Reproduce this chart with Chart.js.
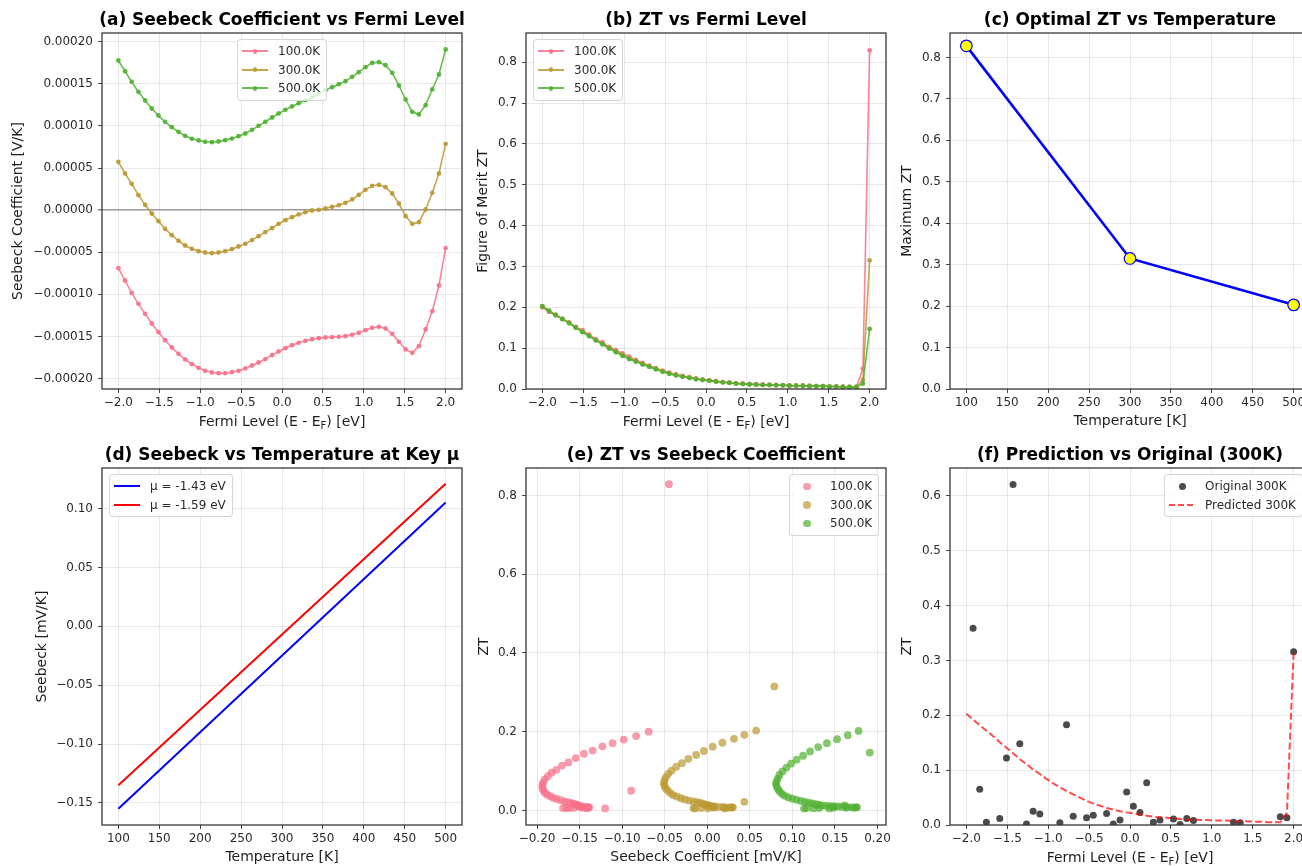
<!DOCTYPE html>
<html><head><meta charset="utf-8">
<script src="https://cdn.jsdelivr.net/npm/chart.js@4.4.1/dist/chart.umd.min.js"></script>
<style>
html,body{margin:0;padding:0;background:#fff;}
body{width:1302px;height:866px;overflow:hidden;position:relative;font-family:"DejaVu Sans",sans-serif;}
.panel{position:absolute;}
.legend{position:absolute;background:rgba(255,255,255,0.8);border:1px solid rgba(204,204,204,0.8);border-radius:4px;padding:2px 6px 2px 4px;font-size:12px;color:#2a2a2a;white-space:nowrap;}
.row{display:flex;align-items:center;height:18.5px;}
.sw{position:relative;width:26px;height:18.5px;margin-right:10px;flex:none;}
.xlab{position:absolute;font-size:14px;color:#1e1e1e;white-space:nowrap;transform:translate(-50%,-50%);line-height:17px;}
.xlab sub{font-size:10px;vertical-align:-3px;line-height:0;}
</style></head><body>
<script>
// ---------------- DATA ----------------
const X_FERMI = [-2.000,-1.918,-1.837,-1.755,-1.673,-1.592,-1.510,-1.429,-1.347,-1.265,-1.184,-1.102,-1.020,-0.939,-0.857,-0.776,-0.694,-0.612,-0.531,-0.449,-0.367,-0.286,-0.204,-0.122,-0.041,0.041,0.122,0.204,0.286,0.367,0.449,0.531,0.612,0.694,0.776,0.857,0.939,1.020,1.102,1.184,1.265,1.347,1.429,1.510,1.592,1.673,1.755,1.837,1.918,2.000];
const TEMP_LABELS = ['100.0K','300.0K','500.0K'];
// Seebeck coefficient [V/K]
const S_100K = [-6.89e-5,-8.36e-5,-9.82e-5,-11.13e-5,-12.32e-5,-13.47e-5,-14.50e-5,-15.45e-5,-16.32e-5,-17.07e-5,-17.74e-5,-18.30e-5,-18.73e-5,-19.09e-5,-19.29e-5,-19.37e-5,-19.37e-5,-19.25e-5,-19.09e-5,-18.81e-5,-18.46e-5,-18.10e-5,-17.70e-5,-17.23e-5,-16.79e-5,-16.40e-5,-16.04e-5,-15.76e-5,-15.52e-5,-15.33e-5,-15.21e-5,-15.13e-5,-15.09e-5,-15.05e-5,-14.97e-5,-14.81e-5,-14.57e-5,-14.26e-5,-13.98e-5,-13.86e-5,-14.06e-5,-14.69e-5,-15.64e-5,-16.55e-5,-16.95e-5,-16.16e-5,-14.18e-5,-12.00e-5,-8.95e-5,-4.51e-5];
const S_300K = [5.74e-5,4.36e-5,3.13e-5,1.78e-5,0.63e-5,-0.40e-5,-1.31e-5,-2.22e-5,-2.97e-5,-3.64e-5,-4.20e-5,-4.59e-5,-4.87e-5,-5.03e-5,-5.11e-5,-5.03e-5,-4.87e-5,-4.63e-5,-4.32e-5,-4.00e-5,-3.56e-5,-3.09e-5,-2.61e-5,-2.14e-5,-1.62e-5,-1.19e-5,-0.83e-5,-0.51e-5,-0.24e-5,-0.04e-5,0.04e-5,0.20e-5,0.40e-5,0.59e-5,0.87e-5,1.27e-5,1.82e-5,2.42e-5,2.89e-5,3.01e-5,2.73e-5,1.98e-5,0.79e-5,-0.71e-5,-1.62e-5,-1.43e-5,0.08e-5,2.06e-5,4.36e-5,7.88e-5];
const S_500K = [17.78e-5,16.51e-5,15.25e-5,14.06e-5,13.03e-5,12.08e-5,11.25e-5,10.50e-5,9.86e-5,9.31e-5,8.83e-5,8.48e-5,8.28e-5,8.12e-5,8.08e-5,8.16e-5,8.32e-5,8.51e-5,8.79e-5,9.11e-5,9.54e-5,10.02e-5,10.50e-5,11.01e-5,11.49e-5,11.92e-5,12.32e-5,12.71e-5,13.07e-5,13.39e-5,13.82e-5,14.26e-5,14.61e-5,14.97e-5,15.33e-5,15.84e-5,16.40e-5,16.99e-5,17.50e-5,17.58e-5,17.23e-5,16.32e-5,14.81e-5,13.15e-5,11.68e-5,11.37e-5,12.48e-5,14.34e-5,16.12e-5,19.09e-5];
// Figure of merit ZT
const ZT_100K = [0.200,0.189,0.180,0.171,0.163,0.152,0.144,0.133,0.122,0.114,0.103,0.096,0.087,0.079,0.071,0.064,0.057,0.051,0.045,0.040,0.036,0.032,0.029,0.026,0.023,0.021,0.019,0.017,0.016,0.014,0.013,0.012,0.011,0.011,0.010,0.010,0.009,0.009,0.008,0.008,0.008,0.007,0.007,0.006,0.006,0.006,0.005,0.005,0.050,0.829];
const ZT_300K = [0.203,0.192,0.182,0.172,0.162,0.151,0.141,0.131,0.120,0.111,0.101,0.093,0.084,0.076,0.069,0.062,0.056,0.050,0.044,0.039,0.035,0.031,0.028,0.025,0.023,0.021,0.019,0.017,0.015,0.014,0.013,0.012,0.011,0.010,0.010,0.009,0.009,0.008,0.008,0.008,0.007,0.007,0.007,0.006,0.006,0.005,0.005,0.005,0.022,0.315];
const ZT_500K = [0.202,0.191,0.181,0.171,0.161,0.150,0.139,0.129,0.119,0.109,0.099,0.090,0.081,0.073,0.067,0.060,0.054,0.048,0.042,0.037,0.033,0.030,0.027,0.024,0.022,0.020,0.018,0.016,0.015,0.013,0.012,0.011,0.011,0.010,0.010,0.009,0.009,0.008,0.008,0.008,0.007,0.007,0.007,0.006,0.006,0.005,0.005,0.005,0.013,0.147];
// (c) optimal ZT
const T_OPT = [100, 300, 500];
const ZT_MAX = [0.828, 0.315, 0.203];
// (d) Seebeck vs temperature [mV/K]
const T_KEY = [100, 500];
const MU_LABELS = ['μ = -1.43 eV', 'μ = -1.59 eV'];
const SEEBECK_MU_143 = [-0.155, 0.1052];
const SEEBECK_MU_159 = [-0.1351, 0.1212];
// (f) original 300K samples
const ORIG_X = [-1.918,-1.837,-1.755,-1.592,-1.510,-1.429,-1.347,-1.265,-1.184,-1.102,-0.857,-0.776,-0.694,-0.531,-0.449,-0.286,-0.204,-0.122,-0.041,0.041,0.122,0.204,0.286,0.367,0.531,0.612,0.694,0.776,1.265,1.347,1.837,1.918,2.000];
const ORIG_ZT = [0.359,0.065,0.005,0.012,0.122,0.621,0.148,0.002,0.025,0.020,0.004,0.183,0.016,0.013,0.018,0.021,0.002,0.009,0.060,0.034,0.023,0.077,0.005,0.009,0.011,0.001,0.012,0.008,0.005,0.004,0.015,0.013,0.316];

// ---------------- STYLE / LAYOUT ----------------
const FONT = '"DejaVu Sans", sans-serif';
const PINK = '#f77189', GOLD = '#bb9832', GREEN = '#50b131';
const GRID = 'rgba(0,0,0,0.09)';
const COLS = [102, 526, 950];
const ROWS = [[33, 389], [468, 825]];
const PW = 360, YW = 100, XH = 45, TH = 31, PR = 20;

function rgba(hex, a){const n=parseInt(hex.slice(1),16);return `rgba(${n>>16},${(n>>8)&255},${n&255},${a})`;}
function fmt(v, dec){ if (Math.abs(v) < 1e-12) v = 0; return v.toFixed(dec).replace('-', '\u2212'); }
function pts(xs, ys){ return xs.map((x,i)=>({x: x, y: ys[i]})); }
function pairs(xs, ys, kx){ return xs.map((x,i)=>({x: x*kx, y: ys[i]})); }

const framePlugin = {id:'frame', afterDraw(chart){
  const a = chart.chartArea, ctx = chart.ctx;
  ctx.save(); ctx.strokeStyle = '#383838'; ctx.lineWidth = 1.3;
  ctx.strokeRect(a.left, a.top, a.right - a.left, a.bottom - a.top); ctx.restore();
}};
const titleCenter = {id:'titleCenter', afterLayout(chart){
  const t = chart.titleBlock; if (!t) return;
  const cx = (chart.chartArea.left + chart.chartArea.right) / 2;
  const half = Math.min(cx, chart.width - cx);
  t.left = cx - half; t.right = cx + half; t.width = 2 * half;
}};

function scale(o, isX){
  return {
    type:'linear', position: isX ? 'bottom' : 'left', min:o.min, max:o.max,
    title:{display: !!o.title, text: o.title || '', color:'#1e1e1e', font:{family:FONT,size:14},
      padding: isX ? {top:0,bottom:4.6} : {top:o.tpad,bottom:0}},
    ticks:{stepSize:o.step, includeBounds:false, autoSkip:false, maxRotation:0, minRotation:0,
      color:'#2a2a2a', font:{family:FONT,size:12}, padding: isX ? 2.3 : 5, callback: v => fmt(v, o.dec)},
    grid:{color: o.gridColor || GRID, lineWidth: o.gridWidth || 1, tickColor:'#444', tickLength:4, tickWidth:1},
    border:{display:false},
    afterFit: s => { if (isX) s.height = XH; else s.width = YW; }
  };
}

function panel(col, row, title, datasets, xs, ys){
  const L = COLS[col], T = ROWS[row][0], B = ROWS[row][1];
  const w = YW + PW + PR, h = TH + (B - T) + XH;
  const div = document.createElement('div'); div.className = 'panel';
  div.style.left = (L - YW) + 'px'; div.style.top = (T - TH) + 'px';
  div.style.width = w + 'px'; div.style.height = h + 'px';
  const c = document.createElement('canvas'); c.width = w; c.height = h;
  c.style.width = w + 'px'; c.style.height = h + 'px';
  div.appendChild(c); document.body.appendChild(div);
  return new Chart(c, {
    type:'line',
    data:{datasets: datasets},
    options:{
      responsive:false, animation:false, devicePixelRatio:1,
      layout:{padding:{left:0,right:PR,top:0,bottom:0}},
      plugins:{legend:{display:false}, tooltip:{enabled:false},
        title:{display:true, text:title, color:'#000', font:{family:FONT,size:17,weight:'bold'}, padding:{top:8,bottom:2.6}}},
      scales:{x: scale(xs, true), y: scale(ys, false)}
    },
    plugins:[framePlugin, titleCenter]
  });
}

function lineSet(label, data, color, order){
  return {label, data, borderColor: rgba(color,0.85), backgroundColor: rgba(color,0.85), borderWidth:1.6,
    pointRadius:2.4, pointBorderWidth:0, pointBackgroundColor: rgba(color,0.9), tension:0, fill:false, order};
}
function scatterSet(label, data, color, r, order){
  return {label, data, showLine:false, pointRadius:r, pointBorderWidth:0, pointBackgroundColor:color,
    backgroundColor:color, borderColor:color, order};
}

function legend(items, pos){
  const d = document.createElement('div'); d.className = 'legend';
  items.forEach(it => {
    const r = document.createElement('div'); r.className = 'row';
    const sw = document.createElement('span'); sw.className = 'sw';
    if (it.lw){
      const l = document.createElement('span');
      const bg = it.dash ? `repeating-linear-gradient(to right, ${it.color} 0 6px, transparent 6px 9px)` : it.color;
      l.style.cssText = `position:absolute;left:0;width:26px;top:${9.25 - it.lw/2}px;height:${it.lw}px;background:${bg};`;
      sw.appendChild(l);
    }
    if (it.ms){
      const m = document.createElement('span');
      m.style.cssText = `position:absolute;left:${13 - it.ms/2}px;top:${9.25 - it.ms/2}px;width:${it.ms}px;height:${it.ms}px;border-radius:50%;background:${it.mcolor || it.color};`;
      sw.appendChild(m);
    }
    const t = document.createElement('span'); t.textContent = it.label;
    r.appendChild(sw); r.appendChild(t); d.appendChild(r);
  });
  document.body.appendChild(d);
  const wd = d.offsetWidth;
  let left = pos.left;
  if (pos.cx !== undefined) left = pos.cx - wd/2;
  if (pos.right !== undefined) left = pos.right - wd;
  d.style.left = left + 'px'; d.style.top = pos.top + 'px';
}

function fermiLabel(col, row){
  const d = document.createElement('div'); d.className = 'xlab';
  d.innerHTML = 'Fermi Level (E - E<sub>F</sub>) [eV]';
  d.style.left = (COLS[col] + PW/2) + 'px'; d.style.top = (ROWS[row][1] + 32) + 'px';
  document.body.appendChild(d);
}

const fermiX = {min:-2.2, max:2.2, step:0.5, dec:1};

// (a)
panel(0, 0, '(a) Seebeck Coefficient vs Fermi Level', [
  lineSet(TEMP_LABELS[0], pts(X_FERMI, S_100K), PINK, 3),
  lineSet(TEMP_LABELS[1], pts(X_FERMI, S_300K), GOLD, 2),
  lineSet(TEMP_LABELS[2], pts(X_FERMI, S_500K), GREEN, 1)
], fermiX, {min:-21.25e-5, max:21.05e-5, step:5e-5, dec:5, title:'Seebeck Coefficient [V/K]', tpad:7.6,
  gridColor: ctx => (ctx.tick && ctx.tick.value === 0) ? 'rgba(120,120,120,0.75)' : GRID,
  gridWidth: ctx => (ctx.tick && ctx.tick.value === 0) ? 1.6 : 1});
fermiLabel(0, 0);

// (b)
panel(1, 0, '(b) ZT vs Fermi Level', [
  lineSet(TEMP_LABELS[0], pts(X_FERMI, ZT_100K), PINK, 3),
  lineSet(TEMP_LABELS[1], pts(X_FERMI, ZT_300K), GOLD, 2),
  lineSet(TEMP_LABELS[2], pts(X_FERMI, ZT_500K), GREEN, 1)
], fermiX, {min:0, max:0.8715, step:0.1, dec:1, title:'Figure of Merit ZT', tpad:48.6});
fermiLabel(1, 0);

// (c)
panel(2, 0, '(c) Optimal ZT vs Temperature', [
  {label:'max ZT', data: pts(T_OPT, ZT_MAX), borderColor:'#0000ff', borderWidth:2.6, pointRadius:5.8,
   pointBackgroundColor:'#ffff00', pointBorderColor:'#0000ff', pointBorderWidth:1.2, tension:0, fill:false}
], {min:80, max:520, step:50, dec:0, title:'Temperature [K]'},
   {min:0, max:0.859, step:0.1, dec:1, title:'Maximum ZT', tpad:48.6});

// (d)
panel(0, 1, '(d) Seebeck vs Temperature at Key μ', [
  {label:MU_LABELS[0], data: pts(T_KEY, SEEBECK_MU_143), borderColor:'#0000ff', borderWidth:2, pointRadius:0, fill:false, order:2},
  {label:MU_LABELS[1], data: pts(T_KEY, SEEBECK_MU_159), borderColor:'#ff0000', borderWidth:2, pointRadius:0, fill:false, order:1}
], {min:80, max:520, step:50, dec:0, title:'Temperature [K]'},
   {min:-0.1688, max:0.1345, step:0.05, dec:2, title:'Seebeck [mV/K]', tpad:31.6});

// (e)
panel(1, 1, '(e) ZT vs Seebeck Coefficient', [
  scatterSet(TEMP_LABELS[0], pairs(S_100K, ZT_100K, 1000), rgba(PINK,0.7), 3.9, 3),
  scatterSet(TEMP_LABELS[1], pairs(S_300K, ZT_300K, 1000), rgba(GOLD,0.7), 3.9, 2),
  scatterSet(TEMP_LABELS[2], pairs(S_500K, ZT_500K, 1000), rgba(GREEN,0.7), 3.9, 1)
], {min:-0.213, max:0.210, step:0.05, dec:2, title:'Seebeck Coefficient [mV/K]'},
  {min:-0.037, max:0.870, step:0.2, dec:1, title:'ZT', tpad:49.6});

// (f)
panel(2, 1, '(f) Prediction vs Original (300K)', [
  scatterSet('Original 300K', pts(ORIG_X, ORIG_ZT), 'rgba(30,30,30,0.8)', 3.5, 2),
  {label:'Predicted 300K', data: pts(X_FERMI, ZT_300K), borderColor:'rgba(255,0,0,0.7)', borderWidth:2,
   borderDash:[7,3], pointRadius:0, fill:false, tension:0, order:1}
], fermiX, {min:0, max:0.651, step:0.1, dec:1, title:'ZT', tpad:48.6});
fermiLabel(2, 1);

// legends
const tempItems = [PINK, GOLD, GREEN].map((c,i) => ({label:TEMP_LABELS[i], color:rgba(c,0.85), lw:1.6, ms:4.8}));
legend(tempItems, {cx: COLS[0] + PW/2, top: 39});
legend(tempItems, {left: COLS[1] + 7, top: 39});
legend([{label:MU_LABELS[0], color:'#0000ff', lw:2}, {label:MU_LABELS[1], color:'#ff0000', lw:2}], {left: COLS[0] + 7, top: 474});
legend([PINK, GOLD, GREEN].map((c,i) => ({label:TEMP_LABELS[i], color:rgba(c,0.7), ms:7.5})), {right: COLS[1] + PW - 7, top: 474});
legend([{label:'Original 300K', color:'rgba(30,30,30,0.8)', ms:7}, {label:'Predicted 300K', color:'rgba(255,0,0,0.7)', lw:2, dash:true}], {right: COLS[2] + PW - 7, top: 474});
</script>
</body></html>
